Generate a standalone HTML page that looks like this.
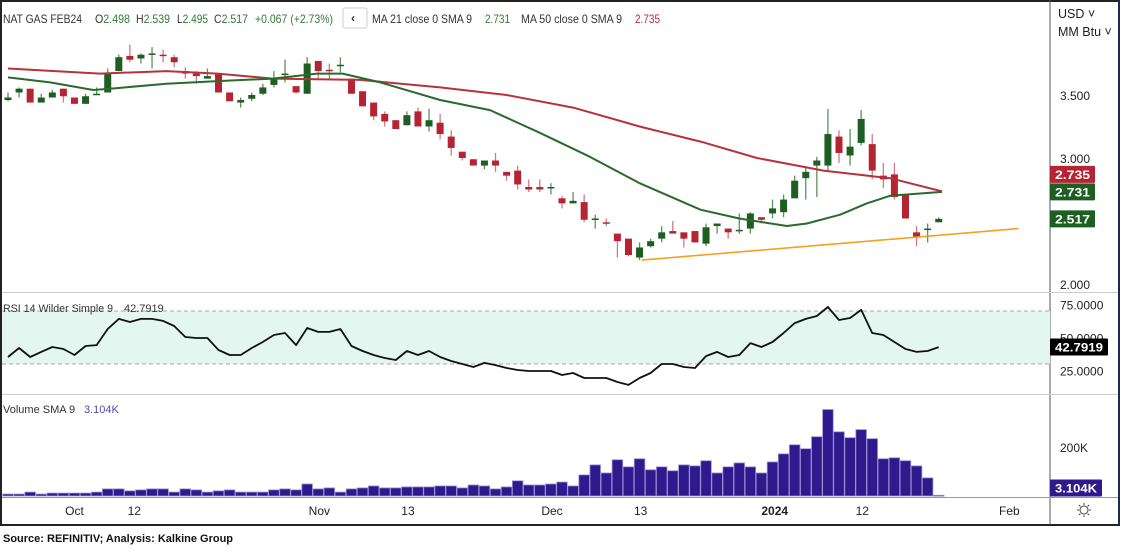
<!DOCTYPE html>
<html><head><meta charset="utf-8">
<style>
html,body{margin:0;padding:0;background:#fff;}
body{width:1123px;height:550px;overflow:hidden;font-family:"Liberation Sans",sans-serif;}
svg text{font-family:"Liberation Sans",sans-serif;}
</style></head>
<body>
<svg id="chart" width="1123" height="550" viewBox="0 0 1123 550" xmlns="http://www.w3.org/2000/svg">
  <rect x="0" y="0" width="1123" height="550" fill="#fff"/>
  <rect x="1" y="1" width="1118" height="524" fill="none" stroke="#222" stroke-width="2"/>
  <line x1="1050" y1="0" x2="1050" y2="525" stroke="#555" stroke-width="1"/>
  <line x1="2" y1="292.5" x2="1118" y2="292.5" stroke="#ccc"/>
  <line x1="2" y1="394.5" x2="1118" y2="394.5" stroke="#ccc"/>
  <line x1="2" y1="497.5" x2="1118" y2="497.5" stroke="#999"/>
  <line x1="1119" y1="0" x2="1119" y2="525" stroke="#1a2a55" stroke-width="2"/>

  <rect x="2" y="311" width="1048" height="53" fill="#e3f7f0"/>
  <line x1="2" y1="311" x2="1050" y2="311" stroke="#aaa" stroke-dasharray="4,3"/>
  <line x1="2" y1="364" x2="1050" y2="364" stroke="#aaa" stroke-dasharray="4,3"/>

  <g id="candles"></g>
  <g id="lines"></g>
  <g id="vol"></g>
  <g id="xaxis"></g>

  <g font-size="12" fill="#333">
    <text x="3" y="23" textLength="79" lengthAdjust="spacingAndGlyphs">NAT GAS FEB24</text>
    <text x="95" y="23" textLength="35" lengthAdjust="spacingAndGlyphs">O<tspan fill="#2e7d32">2.498</tspan></text>
    <text x="136" y="23" textLength="34" lengthAdjust="spacingAndGlyphs">H<tspan fill="#2e7d32">2.539</tspan></text>
    <text x="177" y="23" textLength="31" lengthAdjust="spacingAndGlyphs">L<tspan fill="#2e7d32">2.495</tspan></text>
    <text x="214" y="23" textLength="34" lengthAdjust="spacingAndGlyphs">C<tspan fill="#2e7d32">2.517</tspan></text>
    <text x="255" y="23" fill="#2e7d32" textLength="78" lengthAdjust="spacingAndGlyphs">+0.067 (+2.73%)</text>
    <rect x="343" y="8" width="24" height="20" rx="2" fill="#fff" stroke="#ccc"/>
    <text x="351" y="22" fill="#333" font-weight="bold">‹</text>
    <text x="372" y="23" textLength="100" lengthAdjust="spacingAndGlyphs">MA 21 close 0 SMA 9</text>
    <text x="485" y="23" fill="#2e7d32" textLength="25" lengthAdjust="spacingAndGlyphs">2.731</text>
    <text x="521" y="23" textLength="101" lengthAdjust="spacingAndGlyphs">MA 50 close 0 SMA 9</text>
    <text x="635" y="23" fill="#c62835" textLength="25" lengthAdjust="spacingAndGlyphs">2.735</text>
  </g>
  <text x="3" y="312" font-size="11" fill="#333" textLength="110" lengthAdjust="spacingAndGlyphs">RSI 14 Wilder Simple 9</text>
  <text x="124" y="312" font-size="11" fill="#333">42.7919</text>
  <text x="3" y="413" font-size="11" fill="#333">Volume SMA 9</text>
  <text x="84" y="413" font-size="11" fill="#5a46b0">3.104K</text>

  <g font-size="12.5" fill="#222">
    <text x="1058" y="18">USD ˅</text>
    <text x="1058" y="36">MM Btu ˅</text>
  </g>
  <g id="yaxis" font-size="12" fill="#222"></g>

  <text x="999" y="515" font-size="12" fill="#222">Feb</text>
  <g transform="translate(1084,510)" stroke="#444" fill="none">
    <circle r="4"/>
    <path d="M0-7V-5M0 5V7M-7 0H-5M5 0H7M-5-5L-3.6-3.6M3.6 3.6L5 5M-5 5L-3.6 3.6M3.6-3.6L5-5"/>
  </g>
  <text x="3" y="542" font-size="11" font-weight="bold" fill="#111">Source: REFINITIV; Analysis: Kalkine Group</text>
</svg>
<script>
const opens=[3.46,3.52,3.55,3.44,3.48,3.55,3.48,3.43,3.50,3.52,3.69,3.81,3.79,3.82,3.82,3.80,3.69,3.67,3.63,3.67,3.52,3.44,3.47,3.51,3.58,3.66,3.57,3.51,3.77,3.70,3.73,3.63,3.53,3.44,3.35,3.30,3.26,3.37,3.25,3.28,3.17,3.05,2.99,2.94,2.98,2.89,2.90,2.77,2.77,2.76,2.68,2.64,2.65,2.51,2.49,2.40,2.36,2.21,2.30,2.36,2.42,2.41,2.42,2.32,2.46,2.44,2.42,2.44,2.53,2.56,2.57,2.68,2.84,2.94,2.94,3.17,3.02,3.12,3.11,2.86,2.87,2.71,2.41,2.43,2.49];
const highs=[3.52,3.56,3.55,3.51,3.54,3.55,3.48,3.51,3.56,3.71,3.82,3.90,3.83,3.88,3.86,3.82,3.72,3.69,3.71,3.67,3.52,3.48,3.52,3.59,3.69,3.78,3.57,3.80,3.77,3.75,3.80,3.63,3.53,3.44,3.37,3.30,3.37,3.40,3.39,3.35,3.22,3.05,2.99,2.98,3.04,2.89,2.94,2.83,2.83,2.80,2.70,2.73,2.71,2.55,2.52,2.40,2.36,2.33,2.36,2.46,2.50,2.41,2.42,2.48,2.48,2.44,2.56,2.57,2.53,2.67,2.71,2.86,2.92,3.01,3.39,3.22,3.23,3.38,3.19,2.96,2.96,2.71,2.46,2.48,2.53];
const lows=[3.45,3.48,3.44,3.44,3.48,3.44,3.43,3.43,3.50,3.52,3.69,3.76,3.75,3.71,3.76,3.72,3.63,3.59,3.63,3.52,3.45,3.40,3.45,3.50,3.56,3.60,3.51,3.51,3.63,3.63,3.68,3.51,3.41,3.30,3.25,3.23,3.26,3.25,3.21,3.15,3.02,2.98,2.94,2.91,2.89,2.82,2.75,2.73,2.73,2.71,2.60,2.64,2.49,2.44,2.46,2.21,2.22,2.19,2.29,2.33,2.40,2.29,2.33,2.30,2.40,2.36,2.40,2.40,2.48,2.52,2.53,2.68,2.67,2.69,2.89,2.96,2.94,3.10,2.83,2.76,2.67,2.52,2.30,2.33,2.49];
const closes=[3.48,3.55,3.44,3.48,3.52,3.49,3.43,3.49,3.51,3.67,3.80,3.78,3.82,3.83,3.81,3.76,3.67,3.65,3.65,3.52,3.45,3.46,3.50,3.56,3.63,3.67,3.52,3.75,3.69,3.69,3.74,3.51,3.41,3.33,3.29,3.23,3.34,3.25,3.30,3.19,3.08,3.00,2.94,2.98,2.94,2.86,2.79,2.75,2.75,2.77,2.64,2.66,2.51,2.52,2.48,2.34,2.23,2.29,2.34,2.41,2.40,2.36,2.33,2.45,2.48,2.41,2.43,2.56,2.51,2.60,2.67,2.82,2.89,2.98,3.19,3.04,3.09,3.31,2.90,2.83,2.69,2.52,2.37,2.44,2.517];
const volumes=[8,8,16,8,12,12,12,12,16,29,29,21,25,29,29,16,29,25,16,21,25,16,16,16,25,29,25,49,29,33,16,29,33,41,33,33,37,37,37,41,41,33,45,41,29,37,62,45,45,49,57,41,86,127,94,148,119,152,107,119,103,127,123,144,94,119,135,119,94,139,172,209,193,242,353,262,238,271,234,152,156,144,123,74,3.1];
const rsi=[35.3,42.1,35.3,39.1,42.8,41.3,36.8,43.6,44.3,56.4,64.0,61.7,64.0,64.0,62.5,58.7,50.4,49.6,49.6,40.6,36.8,36.8,42.1,46.6,51.9,53.4,44.3,57.2,54.2,54.2,56.4,43.6,39.8,36.8,34.5,33.0,39.8,36.8,39.8,35.3,32.3,30.0,27.7,30.8,29.2,27.0,25.5,24.7,24.7,24.7,21.7,23.2,19.4,19.4,19.4,16.4,14.2,19.4,23.2,30.0,30.0,27.7,27.0,36.0,39.1,35.3,36.8,45.8,42.8,46.6,53.4,60.9,64.0,66.2,73.0,63.2,64.7,70.8,53.4,51.9,46.6,41.3,39.1,39.8,42.79];
const ma50Idx=[0,8.3,14.3,18.9,23.9,31.8,39,45,51,57,62.5,67.6,73.6,79.6,84.3];
const ma50Val=[3.71,3.67,3.69,3.67,3.63,3.62,3.56,3.50,3.40,3.25,3.13,3.00,2.90,2.84,2.735];
const ma21Idx=[0,3.8,7.7,9.2,14.3,18.9,23.9,27.9,30.2,33.6,39,43.5,48,52.5,57,62.5,66,70.3,72.1,75.1,77.5,79.6,84.3];
const ma21Val=[3.64,3.60,3.54,3.55,3.59,3.61,3.63,3.67,3.67,3.60,3.46,3.38,3.20,3.01,2.80,2.59,2.52,2.46,2.48,2.55,2.64,2.70,2.731];
const trendIdx=[57.2,91.2];
const trendVal=[2.19,2.44];
const priceTicks=[3.5,3.0,2.0];
const rsiTicks=[75,50,25];
const volTicks=[200];
const timeLabels=["Oct","12","Nov","13","Dec","13","2024","12"];
const timeIdx=[6,11.4,28.1,36.1,49.1,57.1,69.2,77.1];

const NS="http://www.w3.org/2000/svg";
const X=i=>8+i*11.08;
const PY=p=>284-(p-2)*126;
const RY=v=>311+(70-v)*1.325;
const VY=v=>496-v*0.245;
function mk(tag,attrs,parent){const e=document.createElementNS(NS,tag);for(const k in attrs)e.setAttribute(k,attrs[k]);parent.appendChild(e);return e;}
const gC=document.getElementById('candles'),gL=document.getElementById('lines'),gV=document.getElementById('vol'),gX=document.getElementById('xaxis'),gY=document.getElementById('yaxis');

for(let i=0;i<opens.length;i++){
  const up=closes[i]>=opens[i];
  const col=up?'#1e5e22':'#b52433';
  const wick=up?'#5f8f5f':'#d07a84';
  const x=X(i);
  const w=mk('line',{x1:x,x2:x,y1:PY(highs[i]),y2:PY(lows[i]),stroke:wick,'stroke-width':1.3},gC);
  
  
  const top=PY(Math.max(opens[i],closes[i])),bot=PY(Math.min(opens[i],closes[i]));
  const b=mk('rect',{x:x-3.5,y:top,width:7,height:Math.max(1.5,bot-top),fill:col},gC);
  
  
}
function poly(idx,vals,yf,color,w,name){
  const pts=idx.map((k,j)=>X(k).toFixed(1)+','+yf(vals[j]).toFixed(1)).join(' ');
  const p=mk('polyline',{points:pts,fill:'none',stroke:color,'stroke-width':w,'stroke-linejoin':'round'},gL);
  
  
}
poly(ma50Idx,ma50Val,PY,'#b8313d',2,'ma50-line');
poly(ma21Idx,ma21Val,PY,'#2a6a2a',2,'ma21-line');
poly(trendIdx,trendVal,PY,'#f5a020',1.6,'support-trendline');
poly(rsi.map((v,i)=>i),rsi,RY,'#111',1.8,'rsi-line');

for(let i=0;i<volumes.length;i++){
  const y=VY(volumes[i]);
  const r=mk('rect',{x:X(i)-5.3,y:y,width:10.6,height:Math.max(1,496-y),fill:'#2e1a8c',stroke:'#9a90d6','stroke-width':0.8},gV);
  
  
}
priceTicks.forEach(p=>{const t=mk('text',{x:1060,y:PY(p)+5},gY);t.textContent=p.toFixed(3);
  
  });
rsiTicks.forEach(v=>{const t=mk('text',{x:1060,y:RY(v)+5},gY);t.textContent=v.toFixed(4);
  
  });
volTicks.forEach(v=>{const t=mk('text',{x:1060,y:VY(v)+5},gY);t.textContent=v+'K';
  
  });
function tag(y,bg,txt,name,w){
  const g=mk('g',{},gY);
  
  
  mk('rect',{x:1050,y:y-8.5,width:w,height:17,fill:bg,rx:1},g);
  const t=mk('text',{x:1055,y:y+4.5,fill:'#fff','font-weight':'bold','font-size':12,textLength:w-10,lengthAdjust:'spacingAndGlyphs'},g);t.textContent=txt;
}
tag(PY(ma50Val[ma50Val.length-1])-17,'#b52433','2.735','ma50-price-tag',45);
tag(PY(ma21Val[ma21Val.length-1]),'#1e5e22','2.731','ma21-price-tag',45);
tag(PY(closes[closes.length-1]),'#1e5e22','2.517','last-price-tag',45);
tag(RY(rsi[rsi.length-1]),'#000','42.7919','rsi-value-tag',58);
tag(488,'#2e1a8c','3.104K','volume-value-tag',52);
timeLabels.forEach((l,j)=>{const t=mk('text',{x:X(timeIdx[j]),y:515,'text-anchor':'middle','font-size':12,fill:'#222','font-weight':l==='2024'?'bold':'normal'},gX);t.textContent=l;
  
  });
</script>
</body></html>
